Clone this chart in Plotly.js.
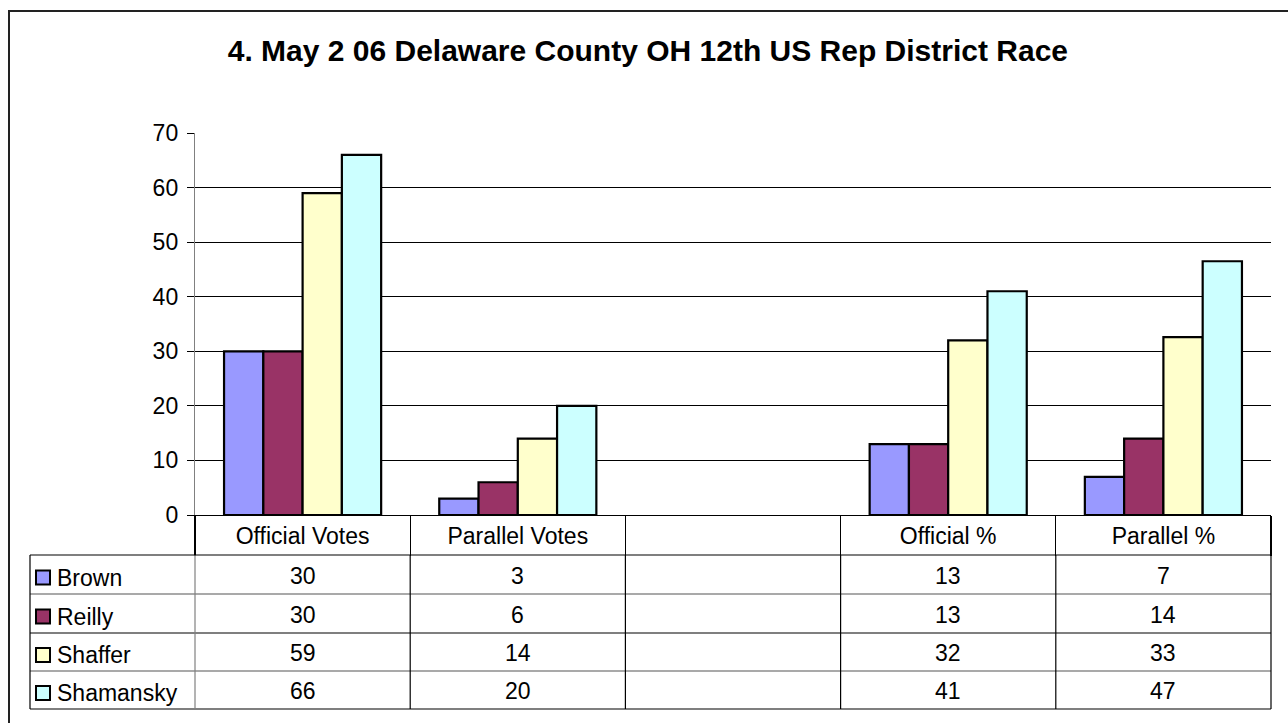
<!DOCTYPE html>
<html>
<head>
<meta charset="utf-8">
<script src="https://cdn.plot.ly/plotly-3.0.1.min.js"></script>
<style>
  html, body { margin: 0; padding: 0; background: #fff; }
  #chart { width: 1288px; height: 723px; }
</style>
</head>
<body>
<div id="chart"></div>
<script>
// ---- data ----
const title = "4. May 2 06 Delaware County OH 12th US Rep District Race";
const categories = ["Official Votes", "Parallel Votes", " ", "Official %", "Parallel %"];
const seriesNames = ["Brown", "Reilly", "Shaffer", "Shamansky"];
const brown = [30, 3, null, 13, 7.0];
const reilly = [30, 6, null, 13, 14.0];
const shaffer = [59, 14, null, 32, 32.6];
const shamansky = [66, 20, null, 41, 46.5];
const seriesColors = ["#9999FF", "#993366", "#FFFFCC", "#CCFFFF"];
const yTicks = [0, 10, 20, 30, 40, 50, 60, 70];

const seriesValues = [brown, reilly, shaffer, shamansky];

// ---- layout constants (px) ----
const W = 1288, H = 723;
const mL = 195, mR = 17, mT = 133, mB = 208;
const plotW = W - mL - mR, plotH = H - mT - mB;
const tableLeftPx = 30;
const rowTops = [555, 594, 633, 671, 709];
const FONT = "Liberation Sans, Arial, sans-serif";

const px2paperX = px => (px - mL) / plotW;
const px2paperY = py => (H - mB - py) / plotH;
const nCat = categories.length;
const catBoundary = i => i / nCat;           // paper x of boundary i (0..nCat)
const catCenter = i => (i + 0.5) / nCat;     // paper x of category center

const traces = seriesNames.map((name, k) => ({
  type: "bar",
  name: name,
  x: categories,
  y: seriesValues[k],
  marker: { color: seriesColors[k], line: { color: "#000", width: 2.2 } },
  showlegend: false,
  hoverinfo: "x+y+name"
}));

const shapes = [];
const annotations = [];
const tableLine = "#000";

// outer chart border
shapes.push({ type: "rect", xref: "paper", yref: "paper",
  x0: px2paperX(9), x1: px2paperX(1300), y0: px2paperY(740), y1: px2paperY(11),
  line: { color: "#222", width: 2 }, fillcolor: "rgba(0,0,0,0)", layer: "below" });

// table horizontal lines
rowTops.forEach((py, i) => {
  shapes.push({ type: "line", xref: "paper", yref: "paper",
    x0: px2paperX(tableLeftPx), x1: 1, y0: px2paperY(py), y1: px2paperY(py),
    line: { color: (i % 2 === 1) ? "#555" : tableLine, width: 1.2 } });
});
// table left edge
shapes.push({ type: "line", xref: "paper", yref: "paper",
  x0: px2paperX(tableLeftPx), x1: px2paperX(tableLeftPx),
  y0: px2paperY(rowTops[0]), y1: px2paperY(rowTops[rowTops.length - 1]),
  line: { color: tableLine, width: 1.2 } });
// table vertical lines at category boundaries
for (let i = 0; i <= nCat; i++) {
  shapes.push({ type: "line", xref: "paper", yref: "paper",
    x0: catBoundary(i), x1: catBoundary(i),
    y0: px2paperY(rowTops[0]), y1: px2paperY(rowTops[rowTops.length - 1]),
    line: { color: i === 0 ? "#808080" : tableLine, width: 1.2 } });
}

// legend swatches + names + values
seriesNames.forEach((name, k) => {
  const top = rowTops[k], bot = rowTops[k + 1];
  const mid = (top + bot) / 2;
  shapes.push({ type: "rect", xref: "paper", yref: "paper",
    x0: px2paperX(36), x1: px2paperX(50),
    y0: px2paperY(mid + 10), y1: px2paperY(mid - 4),
    fillcolor: seriesColors[k], line: { color: "#000", width: 2 } });
  annotations.push({ xref: "paper", yref: "paper", x: px2paperX(55), y: px2paperY(mid + 3),
    xanchor: "left", yanchor: "middle", text: name, showarrow: false,
    font: { family: FONT, size: 23, color: "#000" } });
  seriesValues[k].forEach((v, c) => {
    if (v === null) return;
    annotations.push({ xref: "paper", yref: "paper", x: catCenter(c), y: px2paperY(mid + 1),
      xanchor: "center", yanchor: "middle", text: String(Math.round(v)), showarrow: false,
      font: { family: FONT, size: 23, color: "#000" } });
  });
});

const layout = {
  width: W, height: H,
  margin: { l: mL, r: mR, t: mT, b: mB, pad: 0 },
  paper_bgcolor: "#fff", plot_bgcolor: "#fff",
  font: { family: FONT, size: 23, color: "#000" },
  title: { text: title, font: { family: FONT, size: 30, weight: "bold", color: "#000" },
    x: 0.503, xanchor: "center", xref: "container", y: 1 - 50 / H, yref: "container", yanchor: "middle" },
  barmode: "group",
  bargap: 0.27,
  bargroupgap: 0,
  xaxis: {
    type: "category",
    categoryorder: "array", categoryarray: categories,
    range: [-0.5, nCat - 0.5],
    showline: true, linecolor: "#000", linewidth: 1.2,
    showgrid: false, zeroline: false,
    ticks: "outside", tickson: "boundaries", ticklen: 40, tickcolor: "#000", tickwidth: 1.2,
    ticklabelstandoff: 0,
    tickfont: { family: FONT, size: 23, color: "#000" },
    fixedrange: true
  },
  yaxis: {
    range: [0, 70],
    tickvals: yTicks, ticktext: yTicks.map(String),
    showline: true, linecolor: "#808080", linewidth: 1.2,
    showgrid: true, gridcolor: "#000", gridwidth: 1,
    zeroline: false,
    ticks: "outside", ticklen: 7, tickcolor: "#000", tickwidth: 1,
    ticklabelstandoff: 4,
    tickfont: { family: FONT, size: 23, color: "#000" },
    fixedrange: true
  },
  shapes: shapes,
  annotations: annotations,
  showlegend: false
};

Plotly.newPlot("chart", traces, layout, { displayModeBar: false, staticPlot: true });
</script>
</body>
</html>
